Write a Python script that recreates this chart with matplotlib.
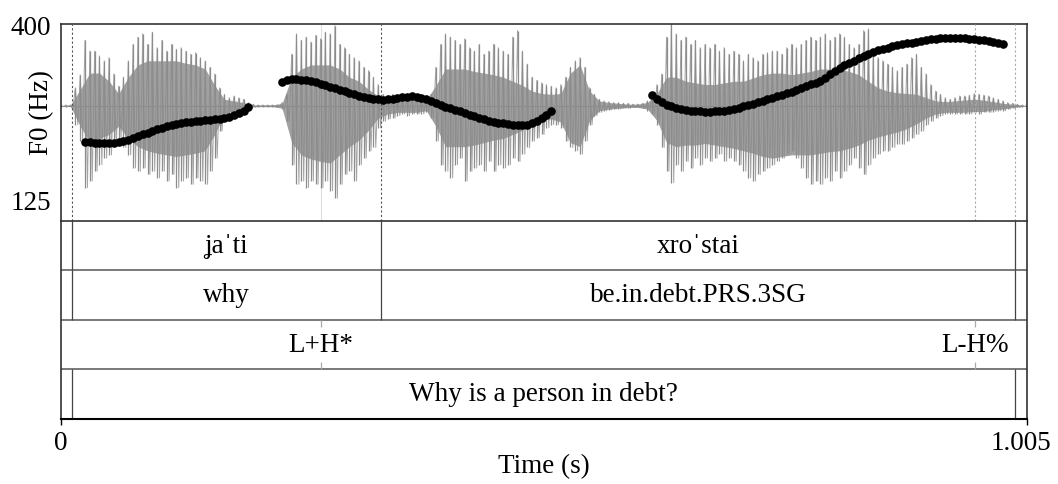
import matplotlib.pyplot as plt
import matplotlib.transforms as mtransforms
import numpy as np

plt.rcParams['font.family'] = ['Liberation Serif', 'DejaVu Serif']

# time axis (s)
t_min, t_max = 0.0, 1.005

# waveform peaks, one pair per 5 ms (arbitrary amplitude units)
wave_step = 0.005
wave_top = [0.01, 0.01, 0.01, 0.22, 0.38, 0.80, 0.67, 0.67, 0.61, 0.55,
            0.59, 0.39, 0.24, 0.35, 0.55, 0.75, 0.84, 0.88, 0.75, 0.90,
            0.71, 0.80, 0.67, 0.75, 0.69, 0.71, 0.67, 0.63, 0.65, 0.59,
            0.55, 0.47, 0.39, 0.22, 0.14, 0.10, 0.12, 0.10, 0.08, 0.04,
            0.02, 0.01, 0.01, 0.01, 0.01, 0.01, 0.04, 0.14, 0.63, 0.88,
            0.80, 0.84, 0.78, 0.86, 0.82, 0.90, 0.88, 0.98, 0.75, 0.71,
            0.63, 0.59, 0.55, 0.47, 0.43, 0.35, 0.26, 0.14, 0.12, 0.14,
            0.10, 0.12, 0.14, 0.12, 0.10, 0.10, 0.12, 0.14, 0.47, 0.75,
            0.88, 0.84, 0.80, 0.75, 0.82, 0.71, 0.67, 0.75, 0.63, 0.67,
            0.75, 0.71, 0.67, 0.63, 0.84, 0.92, 0.67, 0.51, 0.35, 0.31,
            0.28, 0.26, 0.24, 0.22, 0.26, 0.35, 0.47, 0.55, 0.59, 0.47,
            0.22, 0.14, 0.08, 0.06, 0.05, 0.04, 0.04, 0.03, 0.03, 0.02,
            0.02, 0.03, 0.06, 0.12, 0.26, 0.39, 0.84, 1.00, 0.88, 0.80,
            0.84, 0.75, 0.80, 0.71, 0.75, 0.71, 0.75, 0.67, 0.71, 0.63,
            0.67, 0.63, 0.55, 0.63, 0.59, 0.55, 0.63, 0.65, 0.67, 0.67,
            0.63, 0.71, 0.75, 0.71, 0.75, 0.80, 0.84, 0.80, 0.84, 0.88,
            0.80, 0.84, 0.88, 0.84, 0.75, 0.71, 0.75, 0.92, 0.94, 0.63,
            0.59, 0.55, 0.51, 0.47, 0.43, 0.47, 0.51, 0.59, 0.63, 0.47,
            0.39, 0.26, 0.18, 0.14, 0.10, 0.08, 0.10, 0.12, 0.12, 0.13,
            0.15, 0.14, 0.13, 0.12, 0.10, 0.08, 0.06, 0.04, 0.03, 0.02,
            0.01, 0.01]
wave_bot = [-0.01, -0.01, -0.01, -0.23, -0.43, -1.00, -0.92, -0.80, -0.72, -0.64,
            -0.60, -0.47, -0.39, -0.51, -0.60, -0.76, -0.80, -0.76, -0.84, -0.80,
            -0.88, -0.80, -0.92, -0.84, -1.00, -0.92, -0.88, -0.96, -0.88, -0.92,
            -0.96, -0.80, -0.64, -0.31, -0.19, -0.10, -0.08, -0.10, -0.07, -0.04,
            -0.02, -0.01, -0.01, -0.01, -0.01, -0.01, -0.04, -0.19, -0.72, -0.96,
            -0.92, -1.00, -0.92, -0.96, -1.00, -0.92, -1.04, -1.13, -0.96, -0.84,
            -0.80, -0.92, -0.72, -0.64, -0.55, -0.51, -0.27, -0.19, -0.16, -0.15,
            -0.12, -0.10, -0.12, -0.10, -0.10, -0.10, -0.08, -0.15, -0.43, -0.72,
            -0.80, -0.88, -0.72, -0.64, -0.92, -0.80, -0.76, -0.72, -0.80, -0.68,
            -0.80, -0.72, -0.76, -0.72, -0.64, -0.68, -0.59, -0.51, -0.43, -0.39,
            -0.35, -0.27, -0.23, -0.23, -0.27, -0.43, -0.51, -0.55, -0.59, -0.43,
            -0.23, -0.12, -0.08, -0.06, -0.05, -0.04, -0.04, -0.03, -0.03, -0.02,
            -0.02, -0.03, -0.06, -0.10, -0.23, -0.51, -0.80, -0.94, -0.72, -0.80,
            -0.68, -0.76, -0.64, -0.72, -0.64, -0.68, -0.64, -0.59, -0.68, -0.64,
            -0.68, -0.72, -0.80, -0.88, -0.92, -0.84, -0.80, -0.76, -0.72, -0.68,
            -0.64, -0.59, -0.55, -0.64, -0.76, -0.88, -0.96, -0.92, -0.96, -0.88,
            -0.92, -0.80, -0.88, -0.80, -0.72, -0.64, -0.76, -0.84, -0.72, -0.64,
            -0.59, -0.55, -0.55, -0.51, -0.47, -0.47, -0.43, -0.39, -0.35, -0.31,
            -0.23, -0.19, -0.15, -0.12, -0.10, -0.10, -0.10, -0.10, -0.10, -0.10,
            -0.08, -0.10, -0.08, -0.08, -0.07, -0.06, -0.06, -0.04, -0.03, -0.02,
            -0.01, -0.01]

# dense inner part of the waveform, one pair per 10 ms
core_step = 0.01
core_top = [0.00, 0.01, 0.20, 0.40, 0.40, 0.30, 0.15, 0.35, 0.50, 0.55,
            0.55, 0.55, 0.55, 0.52, 0.50, 0.45, 0.25, 0.08, 0.06, 0.04,
            0.01, 0.01, 0.01, 0.03, 0.35, 0.45, 0.50, 0.50, 0.50, 0.45,
            0.35, 0.30, 0.20, 0.12, 0.08, 0.07, 0.08, 0.07, 0.07, 0.25,
            0.45, 0.45, 0.45, 0.42, 0.40, 0.38, 0.35, 0.30, 0.25, 0.18,
            0.15, 0.14, 0.15, 0.40, 0.50, 0.18, 0.06, 0.04, 0.03, 0.02,
            0.02, 0.04, 0.15, 0.35, 0.35, 0.30, 0.28, 0.26, 0.26, 0.28,
            0.30, 0.30, 0.34, 0.38, 0.40, 0.40, 0.38, 0.40, 0.42, 0.45,
            0.45, 0.45, 0.42, 0.38, 0.30, 0.22, 0.18, 0.16, 0.15, 0.14,
            0.10, 0.06, 0.05, 0.06, 0.07, 0.08, 0.07, 0.05, 0.03, 0.02,
            0.01]
core_bot = [0.00, -0.01, -0.25, -0.45, -0.40, -0.35, -0.25, -0.40, -0.50, -0.55,
            -0.58, -0.60, -0.62, -0.60, -0.58, -0.55, -0.35, -0.10, -0.06, -0.04,
            -0.01, -0.01, -0.01, -0.03, -0.45, -0.60, -0.65, -0.68, -0.70, -0.60,
            -0.50, -0.42, -0.30, -0.15, -0.10, -0.08, -0.08, -0.08, -0.06, -0.25,
            -0.50, -0.50, -0.50, -0.48, -0.45, -0.42, -0.40, -0.35, -0.30, -0.22,
            -0.18, -0.16, -0.20, -0.45, -0.50, -0.18, -0.06, -0.04, -0.03, -0.02,
            -0.02, -0.04, -0.18, -0.45, -0.50, -0.48, -0.48, -0.46, -0.48, -0.50,
            -0.52, -0.55, -0.58, -0.62, -0.64, -0.62, -0.60, -0.60, -0.60, -0.58,
            -0.56, -0.55, -0.52, -0.48, -0.42, -0.38, -0.35, -0.32, -0.28, -0.22,
            -0.15, -0.10, -0.08, -0.08, -0.08, -0.07, -0.07, -0.05, -0.04, -0.02,
            -0.01]

# F0 track (Hz), 5 ms frames, three voiced stretches
pitch_step = 0.005
pitch_starts = [0.025, 0.230, 0.615]
pitch_runs = [
    [215.5, 214.8, 214.2, 213.7, 213.3, 213.2, 213.6, 214.5, 216.3, 218.8,
     221.6, 224.6, 227.5, 230.0, 232.6, 235.0, 237.5, 239.8, 241.8, 243.4,
     244.8, 245.9, 246.8, 247.5, 248.3, 249.1, 249.9, 250.8, 251.7, 252.5,
     254.8, 257.5, 260.0, 264.0, 270.5],
    [309.5, 312.5, 313.5, 313.6, 313.0, 311.8, 310.3, 308.5, 306.4, 304.4,
     302.0, 299.5, 297.0, 294.8, 292.6, 290.1, 287.6, 285.4, 283.6, 282.6,
     281.8, 281.6, 282.1, 283.2, 284.6, 285.7, 286.4, 286.5, 286.1, 284.6,
     282.8, 280.0, 276.8, 273.5, 270.5, 268.6, 265.8, 263.1, 260.3, 257.8,
     255.6, 253.0, 250.6, 248.5, 246.8, 245.7, 244.6, 243.4, 242.6, 242.0,
     241.9, 242.6, 244.4, 247.6, 252.4, 257.0, 263.0],
    [288.5, 282.3, 277.5, 273.9, 271.0, 268.8, 267.0, 265.6, 264.5, 263.5,
     263.1, 262.9, 262.8, 263.1, 263.6, 264.5, 265.8, 267.4, 269.2, 271.0,
     273.0, 275.2, 277.4, 279.6, 281.8, 284.2, 286.7, 289.2, 291.5, 294.1,
     296.8, 299.5, 302.4, 305.3, 308.3, 311.2, 314.7, 321.4, 326.1, 331.0,
     335.1, 339.0, 342.8, 346.5, 350.0, 353.4, 356.2, 358.8, 361.0, 363.2,
     365.0, 366.6, 368.1, 369.5, 371.0, 372.4, 373.8, 375.0, 376.0, 376.8,
     377.4, 377.8, 378.0, 378.1, 378.0, 377.7, 377.0, 376.1, 375.3, 374.3,
     373.2, 371.8, 370.0, 368.6],
]

# TextGrid tiers
word_bounds = [0.0114, 0.333, 0.9925]
word_labels = ['ʝaˈti', 'xroˈstai']
gloss_labels = ['why', 'be.in.debt.PRS.3SG']
tone_times = [0.2705, 0.951]
tone_labels = ['L+H*', 'L-H%']
sent_bounds = [0.0114, 0.9925]
sent_labels = ['Why is a person in debt?']

FS = 19.5
W, H = 1058, 485
fig = plt.figure(figsize=(W / 100, H / 100), dpi=100)

x0, x1 = 61, 1027
y_top, y_mid, y_bot = 25, 221.7, 419.5


def frac_rect(top, bottom):
    return [x0 / W, 1 - bottom / H, (x1 - x0) / W, (bottom - top) / H]


# waveform + pitch panel
ax = fig.add_axes(frac_rect(y_top, y_mid))
ax.set_xlim(t_min, t_max)
ax.set_ylim(-1.405, 1.0)
t_wave = np.arange(len(wave_top)) * wave_step
t_core = np.arange(len(core_top)) * core_step
ax.axvline(tone_times[0], color='#dddddd', lw=0.8, zorder=0.5)
ax.axhline(0, color='#888888', lw=0.8, zorder=1)
# zigzag through the peaks, like a drawn sound wave
zz_t = np.column_stack([t_wave, t_wave + wave_step / 2]).ravel()
zz_v = np.column_stack([wave_top, wave_bot]).ravel()
ax.plot(zz_t, zz_v, color='#a4a4a4', lw=0.7, zorder=1)
ax.fill_between(t_core, core_bot, core_top, color='#8a8a8a', alpha=0.8,
                lw=0, zorder=2)
ax.vlines(t_wave, wave_bot, wave_top, color='#8c8c8c', lw=0.9, zorder=2)

# boundaries shown in the signal panel
for b in word_bounds[:2]:
    ax.axvline(b, color='#555555', lw=0.8, ls=(0, (2, 2)), zorder=3)
ax.axvline(word_bounds[2], color='#aaaaaa', lw=0.8, ls=(0, (2, 2)), zorder=3)
ax.axvline(tone_times[1], color='#aaaaaa', lw=0.8, ls=(0, (2, 2)), zorder=3)

ax.set_xticks([])
ax.set_yticks([])
for s in ['top', 'left', 'right']:
    ax.spines[s].set_color('#333333')
    ax.spines[s].set_linewidth(1.2)
ax.spines['bottom'].set_visible(False)

axp = ax.twinx()
axp.set_ylim(125 - 21 * 275 / 175, 400)
for run, start in zip(pitch_runs, pitch_starts):
    t = start + np.arange(len(run)) * pitch_step
    axp.plot(t, run, 'o', color='black', ms=6.2, mew=0, zorder=5)
axp.yaxis.set_ticks_position('left')
axp.set_yticks([125, 400], ['125', '400'])
axp.tick_params(axis='y', length=0, pad=7, labelsize=FS)
for s in axp.spines.values():
    s.set_visible(False)
fig.text(42 / W, 1 - 112.5 / H, 'F0 (Hz)', rotation=90, ha='center',
         va='center', fontsize=FS)

# tier panel
axt = fig.add_axes(frac_rect(y_mid, y_bot))
axt.set_xlim(t_min, t_max)
axt.set_ylim(0, 4)
axt.set_yticks([])
for s in axt.spines.values():
    s.set_color('#333333')
    s.set_linewidth(1.2)
axt.spines['bottom'].set_color('black')
axt.spines['bottom'].set_linewidth(1.5)
for y in [1, 2, 3]:
    axt.axhline(y, color='#555555', lw=1.1)

line_kw = dict(color='#444444', lw=0.9)
axt.vlines(word_bounds, 3, 4, **line_kw)
axt.vlines(word_bounds, 2, 3, **line_kw)
axt.vlines(sent_bounds, 0, 1, **line_kw)
axt.vlines(tone_times, 1.85, 2, color='#aaaaaa', lw=0.9)
axt.vlines(tone_times, 1, 1.15, color='#aaaaaa', lw=0.9)

for i, lab in enumerate(word_labels):
    mid = (word_bounds[i] + word_bounds[i + 1]) / 2
    axt.text(mid, 3.5, lab, ha='center', va='center', fontsize=FS)
for i, lab in enumerate(gloss_labels):
    mid = (word_bounds[i] + word_bounds[i + 1]) / 2
    axt.text(mid, 2.5, lab, ha='center', va='center', fontsize=FS)
for tt, lab in zip(tone_times, tone_labels):
    axt.text(tt, 1.5, lab, ha='center', va='center', fontsize=FS)
for i, lab in enumerate(sent_labels):
    mid = (sent_bounds[i] + sent_bounds[i + 1]) / 2
    axt.text(mid, 0.5, lab, ha='center', va='center', fontsize=FS)

axt.set_xticks([t_min, t_max], ['0', '1.005'])
axt.tick_params(axis='x', direction='out', length=4.5, width=1.0,
                pad=4, labelsize=FS)
last = axt.get_xticklabels()[-1]
last.set_transform(last.get_transform() +
                   mtransforms.ScaledTranslation(-6 / 100, 0, fig.dpi_scale_trans))
fig.text((x0 + x1) / 2 / W, 1 - 467 / H, 'Time (s)', ha='center',
         va='center', fontsize=FS)

fig.savefig('out.png', dpi=100)
